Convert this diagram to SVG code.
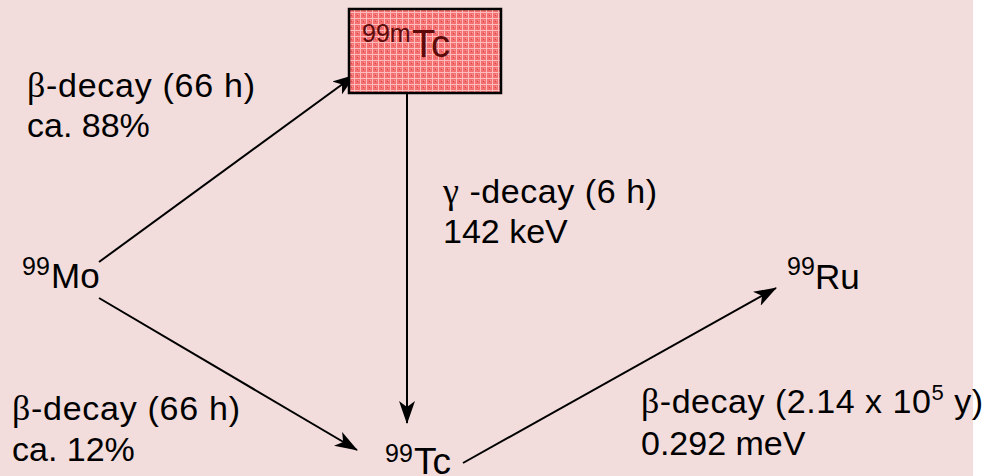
<svg xmlns="http://www.w3.org/2000/svg" width="1004" height="476" viewBox="0 0 1004 476">
<style>
.t{font-family:"Liberation Sans",Arial,sans-serif;font-size:34px;fill:#000}
.n{font-family:"Liberation Sans",Arial,sans-serif;font-size:35px;fill:#000}
.s{font-size:25px}
.g{font-family:"Liberation Serif","Times New Roman",serif;font-size:36px}
.c{stroke:#000;stroke-width:2;fill:none}
</style>
<defs>
<marker id="ah" markerUnits="userSpaceOnUse" markerWidth="24" markerHeight="16" refX="22" refY="8" orient="auto">
<path d="M0,0 L23,8 L0,16 L6,8 z" fill="#000"/>
</marker>
<pattern id="chk" width="6" height="6" patternUnits="userSpaceOnUse">
<rect width="6" height="6" fill="#f47070"/>
<rect x="0" y="0" width="6" height="1" fill="#ffbcbc"/>
<rect x="0" y="0" width="1" height="6" fill="#ffbcbc"/>
<rect x="3" y="3" width="1" height="1" fill="#d84848"/>
<rect x="4" y="2" width="1" height="1" fill="#ff9e9e"/>
</pattern>
</defs>
<rect x="0" y="0" width="973" height="476" fill="#f2dcdc"/>
<rect x="973" y="0" width="31" height="476" fill="#ffffff"/>
<g id="connectors">
<line class="c" x1="99" y1="262" x2="355" y2="75" marker-end="url(#ah)"/>
<line class="c" x1="99" y1="298" x2="357" y2="450" marker-end="url(#ah)"/>
<line class="c" x1="407" y1="82" x2="407" y2="423" marker-end="url(#ah)"/>
<line class="c" x1="463" y1="463" x2="776" y2="288" marker-end="url(#ah)"/>
</g>
<g id="node-tc99m">
<rect x="349" y="9" width="152" height="84" fill="url(#chk)" stroke="#000" stroke-width="2.5"/>
<text class="n" x="362" y="42" style="fill:#5c0a0a"><tspan class="s">99m</tspan></text>
<text class="n" x="412" y="57" style="fill:#5c0a0a;font-size:38px">Tc</text>
</g>
<g id="node-mo99">
<text class="n" x="22" y="275"><tspan class="s">99</tspan></text>
<text class="n" x="51" y="288">Mo</text>
</g>
<g id="node-tc99">
<text class="n" x="385" y="462"><tspan class="s">99</tspan></text>
<text class="n" x="414" y="474" style="font-size:37px">Tc</text>
</g>
<g id="node-ru99">
<text class="n" x="787" y="275"><tspan class="s">99</tspan></text>
<text class="n" x="815" y="289">Ru</text>
</g>
<g id="labels">
<text class="t" x="27" y="97" textLength="228" lengthAdjust="spacing"><tspan class="g">β</tspan>-decay (66 h)</text>
<text class="t" x="27" y="137">ca. 88%</text>
<text class="t" x="443" y="203" textLength="214" lengthAdjust="spacing"><tspan class="g">γ</tspan> -decay (6 h)</text>
<text class="t" x="443" y="243">142 keV</text>
<text class="t" x="12" y="420" textLength="228" lengthAdjust="spacing"><tspan class="g">β</tspan>-decay (66 h)</text>
<text class="t" x="12" y="461">ca. 12%</text>
<text class="t" x="641" y="413" textLength="342" lengthAdjust="spacing"><tspan class="g">β</tspan>-decay (2.14 x 10<tspan font-size="22" dy="-13">5</tspan><tspan dy="13"> y)</tspan></text>
<text class="t" x="641" y="455">0.292 meV</text>
</g>
</svg>
